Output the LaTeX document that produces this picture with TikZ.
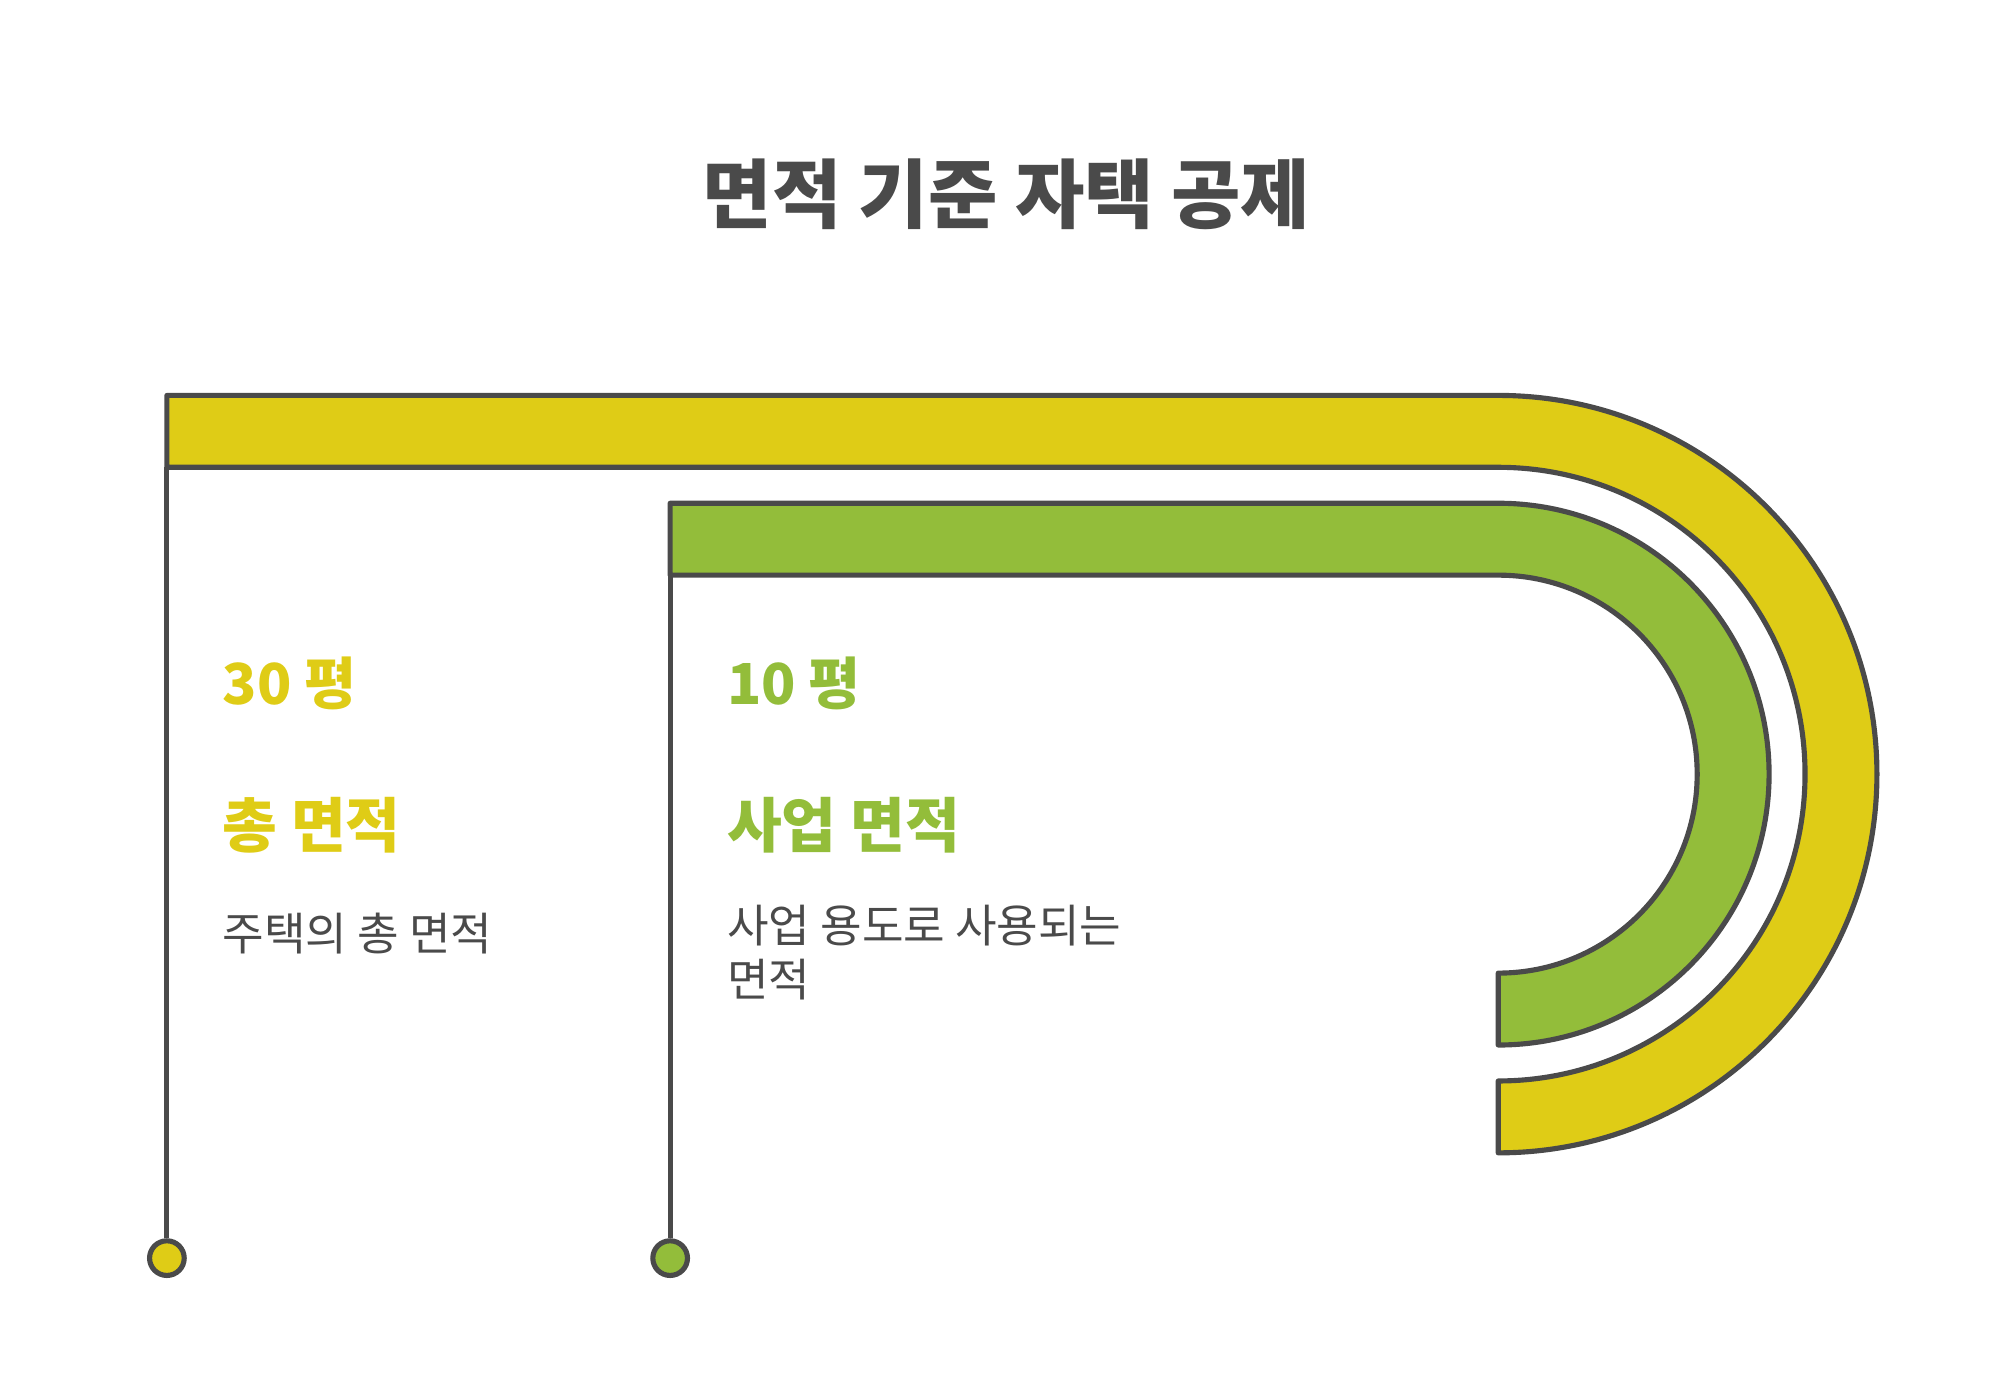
\documentclass[tikz,border=0pt]{standalone}
\usepackage{fontspec}
\setmainfont{Noto Sans CJK KR}
\usepackage{tikz}
\usetikzlibrary{calc}
\definecolor{barYellow}{HTML}{DFCC16}
\definecolor{barGreen}{HTML}{93BD3A}
\definecolor{inkGray}{HTML}{4A4A4A}

\begin{document}
\begin{tikzpicture}[x=0.5pt, y=-0.5pt,
		band/.style={draw=inkGray, line width=2pt, line join=round},
		stem/.style={draw=inkGray, line width=2pt},
		footdot/.style={circle, draw=inkGray, line width=2pt, minimum size=13.5pt, inner sep=0pt},
		numtxt/.style={anchor=base west, inner sep=0pt, font=\fontsize{22}{26}\selectfont\bfseries},
		headtxt/.style={anchor=base west, inner sep=0pt, font=\fontsize{23.2}{27}\selectfont\bfseries},
		bodytxt/.style={anchor=base west, inner sep=0pt, align=left, text=inkGray, font=\fontsize{17.6}{20.75}\selectfont}]
		%%%%% START %%%%%
		
		\useasboundingbox (0,0) rectangle (1568,1079);
		
		\node[text=inkGray, font=\fontsize{29.4}{35}\selectfont\bfseries] (title) at (784,151) {면적 기준 자택 공제};
		
		% total area band
		\draw[band, fill=barYellow] (130,308) -- (1167,308) arc (-90:90:295) -- (1167,842) arc (90:-90:239) -- (130,364) -- cycle;
		% business area band
		\draw[band, fill=barGreen] (522,392) -- (1167,392) arc (-90:90:211) -- (1167,758) arc (90:-90:155) -- (522,448) -- cycle;
		
		\coordinate (totalFoot) at (130,364);
		\coordinate (bizFoot) at (522,448);
		\node[footdot, fill=barYellow] (dotTotal) at (130,980) {};
		\node[footdot, fill=barGreen] (dotBiz) at (522,980) {};
		\draw[stem] (totalFoot) -- (dotTotal);
		\draw[stem] (bizFoot) -- (dotBiz);
		
		\node[numtxt, text=barYellow] (totalNum) at (173,549) {30 평};
		\node[headtxt, text=barYellow] (totalHead) at (173,660) {총 면적};
		\node[bodytxt] (totalText) at (173,740) {주택의 총 면적};
		
		\node[numtxt, text=barGreen] (bizNum) at (566,549) {10 평};
		\node[headtxt, text=barGreen] (bizHead) at (566,660) {사업 면적};
		\node[bodytxt] (bizText) at (566,776) {사업 용도로 사용되는\\면적};
		
		%%%%% END %%%%%
	\end{tikzpicture}
\end{document}
